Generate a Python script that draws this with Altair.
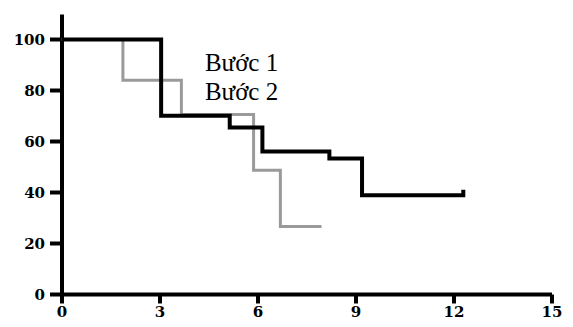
import altair as alt
import pandas as pd

# Step 1 (black) Kaplan-Meier style curve
s1_x = [0, 3.05, 5.15, 6.15, 8.2, 9.2, 12.3, 12.3]
s1_y = [100, 70, 65.4, 56, 53.2, 38.8, 38.8, 41]
# Step 2 (grey) curve
s2_x = [0, 1.88, 3.67, 5.88, 6.7, 7.96]
s2_y = [100, 84, 70.5, 48.6, 26.5, 26.5]

label_text = ["Bước 1", "Bước 2"]
label_x = [4.39, 4.39]
label_y = [87.8, 76.2]

x_ticks = [0, 3, 6, 9, 12, 15]
y_ticks = [0, 20, 40, 60, 80, 100]

d1 = pd.DataFrame({"x": s1_x, "y": s1_y, "order": list(range(len(s1_x)))})
d2 = pd.DataFrame({"x": s2_x, "y": s2_y, "order": list(range(len(s2_x)))})
dl = pd.DataFrame({"t": label_text, "x": label_x, "y": label_y})

xs = alt.Scale(domain=[0, 15], nice=False, zero=False)
ys = alt.Scale(domain=[0, 110], nice=False, zero=False)

xax = alt.Axis(values=x_ticks, title=None, grid=False, domainColor="black",
               domainWidth=4, tickColor="black", tickWidth=4, tickSize=9,
               labelFont="DejaVu Serif", labelFontWeight="bold", labelFontSize=15,
               labelColor="black", labelPadding=1, labelFlush=False, labelOverlap=False)
yax = alt.Axis(values=y_ticks, title=None, grid=False, domainColor="black",
               domainWidth=4, tickColor="black", tickWidth=4, tickSize=12,
               labelFont="DejaVu Serif", labelFontWeight="bold", labelFontSize=15,
               labelColor="black", labelPadding=5, labelFlush=False, labelOverlap=False)

grey = alt.Chart(d2).mark_line(interpolate="step-after", color="#9a9a9a",
                                strokeWidth=3).encode(
    x=alt.X("x:Q", scale=xs, axis=xax),
    y=alt.Y("y:Q", scale=ys, axis=yax),
    order="order:Q",
)
black = alt.Chart(d1).mark_line(interpolate="step-after", color="black",
                                 strokeWidth=4).encode(
    x=alt.X("x:Q", scale=xs),
    y=alt.Y("y:Q", scale=ys),
    order="order:Q",
)
labels = alt.Chart(dl).mark_text(align="left", baseline="alphabetic",
                                 font="Liberation Serif", fontSize=25,
                                 color="black").encode(
    x=alt.X("x:Q", scale=xs),
    y=alt.Y("y:Q", scale=ys),
    text="t:N",
)

chart = alt.layer(grey, black, labels).properties(
    width=490, height=280,
    autosize=alt.AutoSizeParams(type="none"),
    padding={"left": 53.5, "top": 6, "right": 13, "bottom": 25},
).configure_view(stroke=None)

chart.save("out.html", embed_options={"renderer": "svg", "actions": False})
